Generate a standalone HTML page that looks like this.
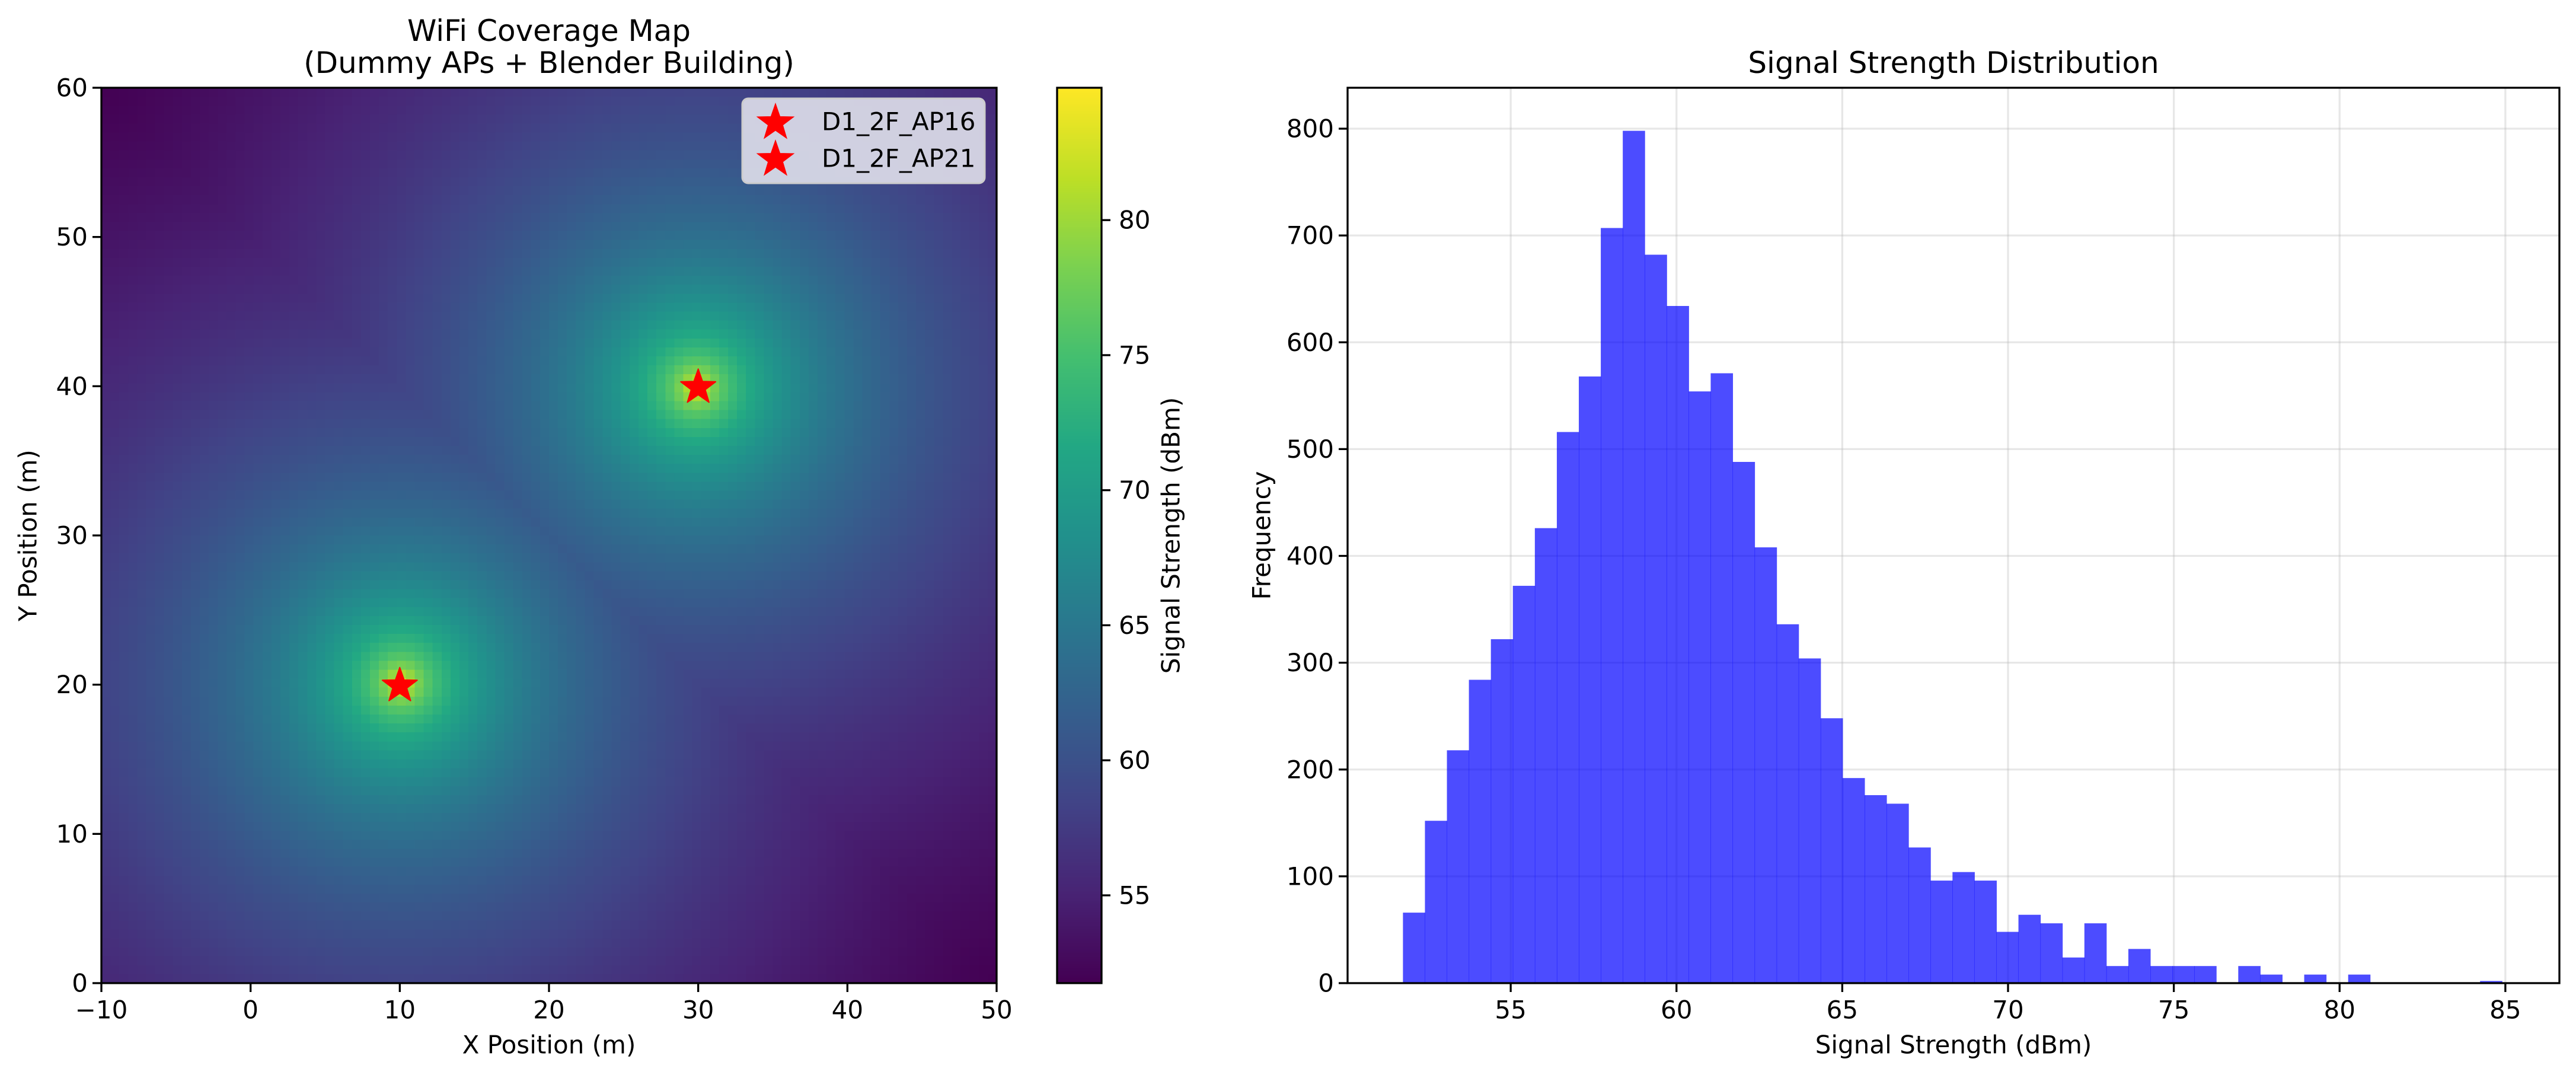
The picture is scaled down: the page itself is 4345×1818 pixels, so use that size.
<!DOCTYPE html>
<html><head><meta charset="utf-8">
<style>
html,body{margin:0;padding:0;background:#fff;}
#wrap{position:relative;width:4345px;height:1818px;overflow:hidden;background:#fff;}
#heat{position:absolute;left:171px;top:148px;width:1510px;height:1510px;image-rendering:pixelated;}
#cbar{position:absolute;left:1783px;top:148px;width:75px;height:1510px;}
svg{position:absolute;left:0;top:0;}
text{font-family:"DejaVu Sans","Liberation Sans",sans-serif;fill:#000;}
</style></head>
<body>
<div id="wrap">
<canvas id="heat" width="100" height="100"></canvas>
<canvas id="cbar" width="1" height="256"></canvas>
<svg id="svg" width="4345" height="1818" xmlns="http://www.w3.org/2000/svg"></svg>
</div>
<script>
// ---- data ----
const apNames = ["D1_2F_AP16", "D1_2F_AP21"];
const apX = [10, 30];
const apY = [20, 40];
const modelPeak = 84.9;      // dBm at AP
const modelSlope = 20;       // dB per decade
const cbTicks = [55, 60, 65, 70, 75, 80];
const heatXTicks = [-10, 0, 10, 20, 30, 40, 50];
const heatYTicks = [0, 10, 20, 30, 40, 50, 60];
const histCounts = [66,152,218,284,322,372,426,516,568,707,798,682,634,554,571,488,408,336,304,248,192,176,168,127,96,104,96,48,64,56,24,56,16,32,16,16,16,0,16,8,0,8,0,8,0,0,0,0,0,2];
const histMin = 51.75;
const histMax = 84.9;
const histXTicks = [55, 60, 65, 70, 75, 80, 85];
const histYTicks = [0, 100, 200, 300, 400, 500, 600, 700, 800];

// ---- helpers ----
const NS = "http://www.w3.org/2000/svg";
const svg = document.getElementById("svg");
function mk(tag, attrs, parent) {
  const e = document.createElementNS(NS, tag);
  for (const k in attrs) e.setAttribute(k, attrs[k]);
  (parent || svg).appendChild(e);
  return e;
}
function txt(s, x, y, size, anchor, parent, rot) {
  const t = mk("text", {x: x, y: y, "font-size": size, "text-anchor": anchor || "middle", "dominant-baseline": "central"}, parent);
  if (rot) t.setAttribute("transform", "rotate(" + rot + " " + x + " " + y + ")");
  t.textContent = s;
  return t;
}
const vir = [[68,1,84],[72,36,117],[65,68,135],[53,95,141],[42,120,142],[33,145,140],[34,168,132],[68,191,112],[122,209,81],[189,223,38],[253,231,37]];
function viridis(t) {
  t = Math.max(0, Math.min(1, t)) * 10;
  const i = Math.min(9, Math.floor(t)), f = t - i;
  return vir[i].map((c, k) => Math.round(c + (vir[i + 1][k] - c) * f));
}
const vmin = 51.75, vmax = 84.9;

// ---- heatmap ----
const hx = v => 171 + (v + 10) / 60 * 1510;
const hy = v => 1658 - v / 60 * 1510;
(function () {
  const c = document.getElementById("heat").getContext("2d");
  const img = c.createImageData(100, 100);
  for (let r = 0; r < 100; r++) {
    const y = 60 - r * 60 / 99;
    for (let q = 0; q < 100; q++) {
      const x = -10 + q * 60 / 99;
      let best = -1e9;
      for (let a = 0; a < apX.length; a++) {
        const d = Math.hypot(x - apX[a], y - apY[a]);
        best = Math.max(best, modelPeak - modelSlope * Math.log10(d + 1));
      }
      const col = viridis((best - vmin) / (vmax - vmin));
      const o = (r * 100 + q) * 4;
      img.data[o] = col[0]; img.data[o + 1] = col[1]; img.data[o + 2] = col[2]; img.data[o + 3] = 255;
    }
  }
  c.putImageData(img, 0, 0);
  const cb = document.getElementById("cbar").getContext("2d");
  for (let i = 0; i < 256; i++) {
    const col = viridis(1 - i / 255);
    cb.fillStyle = "rgb(" + col.join(",") + ")";
    cb.fillRect(0, i, 1, 1);
  }
})();

const gL = mk("g", {});


mk("rect", {x: 171, y: 148, width: 1510, height: 1510, fill: "none", stroke: "#000", "stroke-width": 3.3}, gL);
heatXTicks.forEach(v => {
  mk("line", {x1: hx(v), x2: hx(v), y1: 1658, y2: 1673, stroke: "#000", "stroke-width": 3.3}, gL);
  const t = txt(v < 0 ? "\u2212" + (-v) : String(v), hx(v), 1703, 42, "middle", gL);
  
  
});
heatYTicks.forEach(v => {
  mk("line", {x1: 156, x2: 171, y1: hy(v), y2: hy(v), stroke: "#000", "stroke-width": 3.3}, gL);
  const t = txt(String(v), 148, hy(v), 42, "end", gL);
  
  
});
let t1 = txt("WiFi Coverage Map", 926, 52, 50, "middle", gL);


let t2 = txt("(Dummy APs + Blender Building)", 926, 106, 50, "middle", gL);


let t3 = txt("X Position (m)", 926, 1762, 42, "middle", gL);


let t4 = txt("Y Position (m)", 47, 903, 42, "middle", gL, -90);



function starPath(cx, cy, R) {
  let p = "";
  for (let i = 0; i < 10; i++) {
    const r = i % 2 ? R * 0.4 : R;
    const a = -Math.PI / 2 + i * Math.PI / 5;
    p += (i ? "L" : "M") + (cx + r * Math.cos(a)).toFixed(1) + " " + (cy + r * Math.sin(a)).toFixed(1);
  }
  return p + "Z";
}
apX.forEach((x, i) => {
  const s = mk("path", {d: starPath(hx(x), hy(apY[i]) + 2, 31), fill: "#ff0000", stroke: "#ff0000", "stroke-width": 2, "stroke-linejoin": "round"}, gL);
  
  
});
// legend
const lg = mk("g", {}, gL);


mk("rect", {x: 1252, y: 166, width: 409, height: 143, rx: 10, fill: "#dcdce8", "fill-opacity": 0.92, stroke: "#cccccc", "stroke-width": 3}, lg);
apNames.forEach((n, i) => {
  const yy = 205 + i * 62;
  const st = mk("path", {d: starPath(1308, yy + 2, 31), fill: "#ff0000", stroke: "#ff0000", "stroke-width": 2}, lg);
  
  
  const tt = txt(n, 1386, yy, 42, "start", lg);
  
  
});

// colorbar axis
const cbY = v => 1658 - (v - vmin) / (vmax - vmin) * 1510;
const gC = mk("g", {});


mk("rect", {x: 1783, y: 148, width: 75, height: 1510, fill: "none", stroke: "#000", "stroke-width": 3.3}, gC);
cbTicks.forEach(v => {
  mk("line", {x1: 1858, x2: 1873, y1: cbY(v), y2: cbY(v), stroke: "#000", "stroke-width": 3.3}, gC);
  const t = txt(String(v), 1887, cbY(v), 42, "start", gC);
  
  
});
let t5 = txt("Signal Strength (dBm)", 1975, 903, 42, "middle", gC, -90);



// ---- histogram ----
const X0 = 2273, X1 = 4317, Yb = 1658, Yt = 148;
const hxmin = 50.08, hxmax = 86.63;
const sx = v => X0 + (v - hxmin) / (hxmax - hxmin) * (X1 - X0);
const sy = v => Yb - v * 1.80125;
const gR = mk("g", {});


histXTicks.forEach(v => mk("line", {x1: sx(v), x2: sx(v), y1: Yt, y2: Yb, stroke: "#b0b0b0", "stroke-opacity": 0.3, "stroke-width": 3.3}, gR));
histYTicks.forEach(v => mk("line", {x1: X0, x2: X1, y1: sy(v), y2: sy(v), stroke: "#b0b0b0", "stroke-opacity": 0.3, "stroke-width": 3.3}, gR));
const bw = (histMax - histMin) / histCounts.length;
histCounts.forEach((c, i) => {
  if (c <= 0) return;
  const a = sx(histMin + i * bw), b = sx(histMin + (i + 1) * bw);
  const r = mk("rect", {x: a, y: sy(c), width: b - a + 0.5, height: Yb - sy(c), fill: "#0000ff", "fill-opacity": 0.7}, gR);
  
  
});
mk("rect", {x: X0, y: Yt, width: X1 - X0, height: Yb - Yt, fill: "none", stroke: "#000", "stroke-width": 3.3}, gR);
histXTicks.forEach(v => {
  mk("line", {x1: sx(v), x2: sx(v), y1: Yb, y2: Yb + 15, stroke: "#000", "stroke-width": 3.3}, gR);
  const t = txt(String(v), sx(v), 1703, 42, "middle", gR);
  
  
});
histYTicks.forEach(v => {
  mk("line", {x1: X0 - 15, x2: X0, y1: sy(v), y2: sy(v), stroke: "#000", "stroke-width": 3.3}, gR);
  const t = txt(String(v), X0 - 23, sy(v), 42, "end", gR);
  
  
});
let t6 = txt("Signal Strength Distribution", 3295, 106, 50, "middle", gR);


let t7 = txt("Signal Strength (dBm)", 3295, 1762, 42, "middle", gR);


let t8 = txt("Frequency", 2128, 903, 42, "middle", gR, -90);


</script>
</body></html>
